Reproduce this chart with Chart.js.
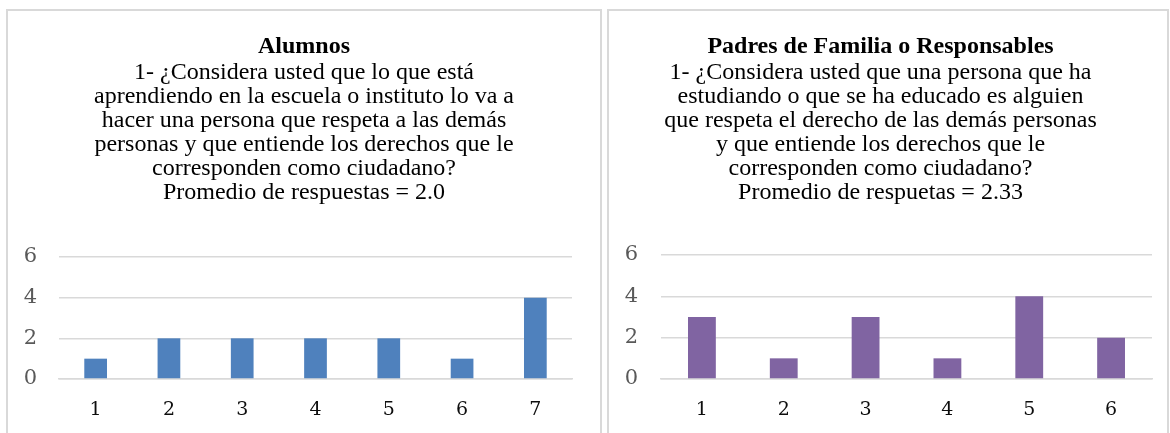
<!DOCTYPE html>
<html>
<head>
<meta charset="utf-8">
<script src="https://cdn.jsdelivr.net/npm/chart.js@4"></script>
<style>
  body { margin: 0; background: #fff; width: 1170px; height: 433px; overflow: hidden; position: relative; }
  .panel { position: absolute; top: 9px; height: 440px; border: 2px solid #d9d9d9; box-sizing: border-box; }
  .panel canvas { position: absolute; left: 0; top: 0; }
</style>
</head>
<body>
<div class="panel" style="left:6px;width:596px;"><canvas id="alumnos" width="592" height="422" style="width:592px;height:422px"></canvas></div>
<div class="panel" style="left:607px;width:562px;"><canvas id="padres" width="558" height="422" style="width:558px;height:422px"></canvas></div>
<script>
// datos
const alumnosLabels = ['1', '2', '3', '4', '5', '6', '7']
const alumnosValues = [1, 2, 2, 2, 2, 1, 4]
const padresLabels = ['1', '2', '3', '4', '5', '6']
const padresValues = [3, 1, 3, 1, 4, 2]
const yTicks = [0, 2, 4, 6]

const alumnosTitle = 'Alumnos'
const alumnosText = [
    '1- ¿Considera usted que lo que está',
    'aprendiendo en la escuela o instituto lo va a',
    'hacer una persona que respeta a las demás',
    'personas y que entiende los derechos que le',
    'corresponden como ciudadano?',
    'Promedio de respuestas = 2.0'
]
const padresTitle = 'Padres de Familia o Responsables'
const padresText = [
    '1- ¿Considera usted que una persona que ha',
    'estudiando o que se ha educado es alguien',
    'que respeta el derecho de las demás personas',
    'y que entiende los derechos que le',
    'corresponden como ciudadano?',
    'Promedio de respuetas = 2.33'
]

const serif = "'Liberation Serif', 'Times New Roman', serif"
const tickFont = "'DejaVu Serif', serif"

function makeChart(id, labels, values, color, title, text, opts) {
    const ctx = document.getElementById(id).getContext('2d')
    return new Chart(ctx, {
        type: 'bar',
        data: {
            labels: labels,
            datasets: [{
                data: values,
                backgroundColor: color,
                borderWidth: 0,
                categoryPercentage: 1,
                barPercentage: opts.barPct
            }]
        },
        options: {
            responsive: false,
            animation: false,
            layout: { padding: { left: 0, right: opts.padRight, top: 0, bottom: 13 } },
            plugins: {
                legend: { display: false },
                tooltip: { enabled: false },
                title: {
                    display: true,
                    text: title,
                    color: '#000',
                    font: { family: serif, size: 24, weight: 'bold', lineHeight: '24px' },
                    padding: { top: 24, bottom: 0 }
                },
                subtitle: {
                    display: true,
                    text: text,
                    color: '#000',
                    font: { family: serif, size: 24, weight: 'normal', lineHeight: '24px' },
                    padding: { top: 2, bottom: opts.subPad }
                }
            },
            scales: {
                x: {
                    grid: { display: false, drawTicks: false },
                    border: { display: true, color: '#d9d9d9', width: 1.5 },
                    afterFit: (axis) => { axis.height = 41 },
                    ticks: { color: '#0d0d0d', padding: 20, font: { family: tickFont, size: 19 } }
                },
                y: {
                    min: 0,
                    max: 6,
                    afterBuildTicks: (axis) => { axis.ticks = yTicks.map(v => ({ value: v })) },
                    afterFit: (axis) => { axis.width = opts.yWidth },
                    grid: { color: '#d9d9d9', lineWidth: 1.5, drawTicks: false },
                    border: { display: false },
                    ticks: { color: '#595959', padding: opts.yPad, font: { family: tickFont, size: 21 } }
                },
                // eje vacio a la derecha, solo para dejar margen sin mover el titulo
                gap: {
                    position: 'right',
                    grid: { display: false, drawTicks: false },
                    border: { display: false },
                    ticks: { display: false },
                    afterFit: (axis) => { axis.width = opts.gapRight }
                }
            }
        }
    })
}

makeChart('alumnos', alumnosLabels, alumnosValues, '#4f81bd', alumnosTitle, alumnosText,
    { barPct: 0.31, padRight: 0, gapRight: 28, subPad: 52, yWidth: 51, yPad: 22 })
makeChart('padres', padresLabels, padresValues, '#8064a2', padresTitle, padresText,
    { barPct: 0.34, padRight: 15, gapRight: 0, subPad: 50, yWidth: 52, yPad: 23 })
</script>
</body>
</html>
